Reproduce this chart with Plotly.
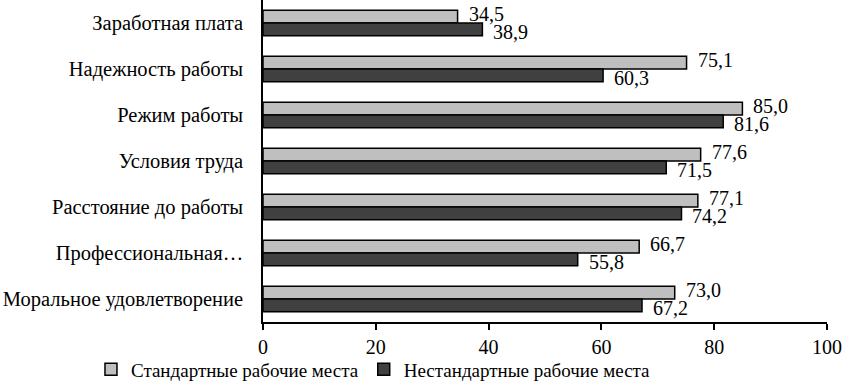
import plotly.graph_objects as go

categories = ["Заработная плата", "Надежность работы", "Режим работы", "Условия труда",
              "Расстояние до работы", "Профессиональная…", "Моральное удовлетворение"]
standard = [34.5, 75.1, 85.0, 77.6, 77.1, 66.7, 73.0]
nonstandard = [38.9, 60.3, 81.6, 71.5, 74.2, 55.8, 67.2]
series_names = ["Стандартные рабочие места", "Нестандартные рабочие места"]
x_ticks = [0, 20, 40, 60, 80, 100]

FONT = "Liberation Serif"
FS = 20.5

def fmt(v):
    return f"{v:.1f}".replace(".", ",")

fig = go.Figure()
fig.add_trace(go.Bar(
    y=categories, x=standard, orientation="h", name=series_names[0],
    marker=dict(color="#bfbfbf", line=dict(color="black", width=1.5)),
))
fig.add_trace(go.Bar(
    y=categories, x=nonstandard, orientation="h", name=series_names[1],
    marker=dict(color="#404040", line=dict(color="black", width=1.5)),
))

for vals, ys in ((standard, 9), (nonstandard, -9)):
    for c, v in zip(categories, vals):
        fig.add_annotation(x=v, y=c, text=fmt(v), showarrow=False, xanchor="left",
                           yanchor="middle", xshift=9, yshift=ys,
                           font=dict(family=FONT, size=20, color="black"))

fig.update_layout(
    width=842, height=382,
    margin=dict(l=263, r=15, t=0, b=60, autoexpand=False),
    barmode="group", bargap=0.45, bargroupgap=0,
    paper_bgcolor="white", plot_bgcolor="white",
    font=dict(family=FONT, size=FS, color="black"),
    showlegend=True,
    legend=dict(orientation="h", x=-0.305, xanchor="left", y=-0.088, yanchor="top",
                bgcolor="rgba(0,0,0,0)",
                font=dict(family=FONT, size=19, color="black"),
                itemwidth=30, tracegroupgap=0),
    xaxis=dict(range=[0, 100], tickvals=x_ticks, ticktext=[str(t) for t in x_ticks],
               showgrid=False, zeroline=False, showline=True, linecolor="black", linewidth=1.5,
               ticks="outside", ticklen=6, tickcolor="black", tickwidth=1.5, automargin=False,
               tickfont=dict(family=FONT, size=20, color="black")),
    yaxis=dict(autorange="reversed", showgrid=False, showline=True, linecolor="black", linewidth=1.5,
               ticks="", ticklabelstandoff=14, automargin=False,
               tickfont=dict(family=FONT, size=FS, color="black")),
)

fig.write_html("out.html", config={"displayModeBar": False},
               post_script="document.body.style.margin='0';document.body.style.padding='0';")
